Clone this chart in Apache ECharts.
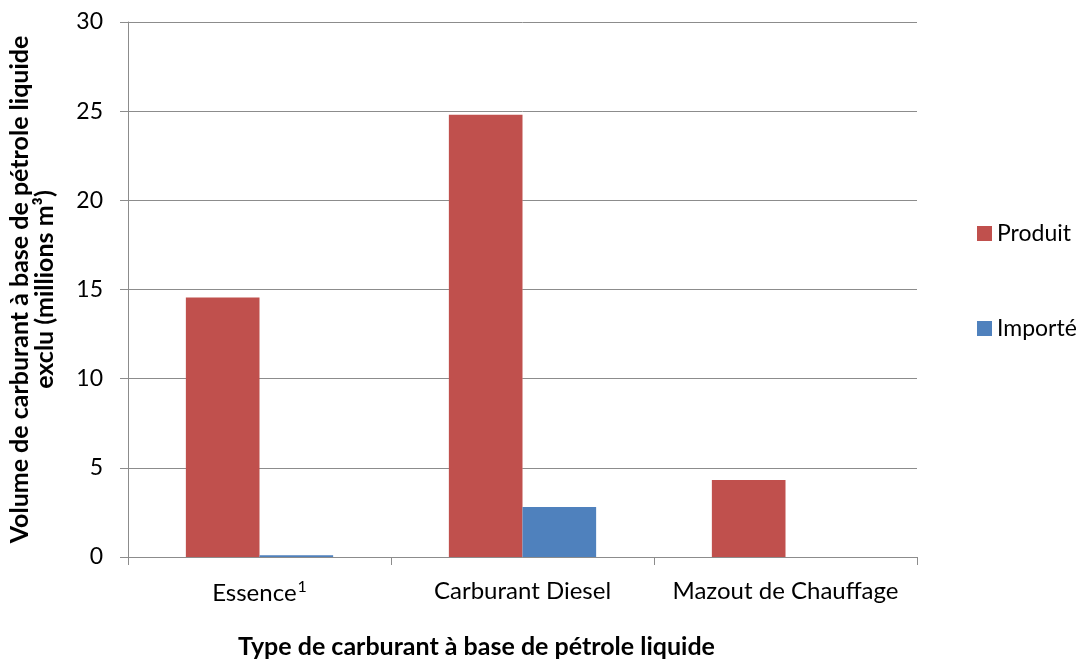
<!DOCTYPE html>
<html>
<head>
<meta charset="utf-8">
<script src="https://cdn.jsdelivr.net/npm/echarts@6/dist/echarts.min.js"></script>
<style>
  html, body { margin: 0; padding: 0; background: #fff; }
  #chart { width: 1083px; height: 660px; }
</style>
</head>
<body>
<div id="chart"></div>
<script>
const categories = ['Essence', 'Carburant Diesel', 'Mazout de Chauffage'];
const produit = [14.55, 24.8, 4.32];
const importe = [0.1, 2.8, 0];
const yTicks = [0, 5, 10, 15, 20, 25, 30];

const font = 'Lato, "Open Sans", sans-serif';
const gridColor = '#8c8c8c';

const chart = echarts.init(document.getElementById('chart'));
chart.setOption({
  animation: false,
  textStyle: { fontFamily: font },
  legend: {
    orient: 'vertical',
    left: 972,
    top: 217,
    itemGap: 72,
    itemWidth: 15,
    itemHeight: 15,
    icon: 'rect',
    textStyle: { fontSize: 23, color: '#000', fontFamily: font },
    data: ['Produit', 'Importé']
  },
  grid: { left: 128, top: 22, right: 166, bottom: 103, containLabel: false, outerBoundsMode: 'none' },
  xAxis: {
    type: 'category',
    data: categories,
    name: 'Type de carburant à base de pétrole liquide',
    nameLocation: 'middle',
    nameGap: 77,
    nameTextStyle: { fontSize: 25, fontWeight: 'bold', color: '#000', fontFamily: font, padding: [0, 92, 0, 0] },
    axisLine: { lineStyle: { color: gridColor, width: 1 } },
    axisTick: { show: true, alignWithLabel: false, length: 8, lineStyle: { color: gridColor } },
    axisLabel: {
      interval: 0,
      fontSize: 24,
      color: '#000',
      margin: 22,
      fontFamily: font,
      formatter: function (v) { return v === 'Essence' ? '{a|Essence}{s|1}' : v; },
      rich: {
        a: { fontSize: 24, color: '#000', fontFamily: font },
        s: { fontSize: 16, color: '#000', fontFamily: font, verticalAlign: 'top', padding: [0, 0, 12, 1] }
      }
    }
  },
  yAxis: {
    type: 'value',
    min: yTicks[0],
    max: yTicks[yTicks.length - 1],
    interval: 5,
    name: 'Volume de carburant à base de pétrole liquide\nexclu (millions m³)',
    nameLocation: 'middle',
    nameRotate: 90,
    nameGap: 71,
    nameTextStyle: { fontSize: 25, fontWeight: 'bold', color: '#000', fontFamily: font, lineHeight: 25 },
    axisLine: { show: true, lineStyle: { color: gridColor, width: 1 } },
    axisTick: { show: true, length: 8, lineStyle: { color: gridColor } },
    splitLine: { lineStyle: { color: gridColor, width: 1 } },
    axisLabel: { fontSize: 23, color: '#000', margin: 25, fontFamily: font }
  },
  series: [
    {
      name: 'Produit',
      type: 'bar',
      data: produit,
      barGap: '0%',
      barCategoryGap: '44%',
      itemStyle: { color: '#c0504d' }
    },
    {
      name: 'Importé',
      type: 'bar',
      data: importe,
      itemStyle: { color: '#4f81bd' }
    }
  ]
});
</script>
</body>
</html>
